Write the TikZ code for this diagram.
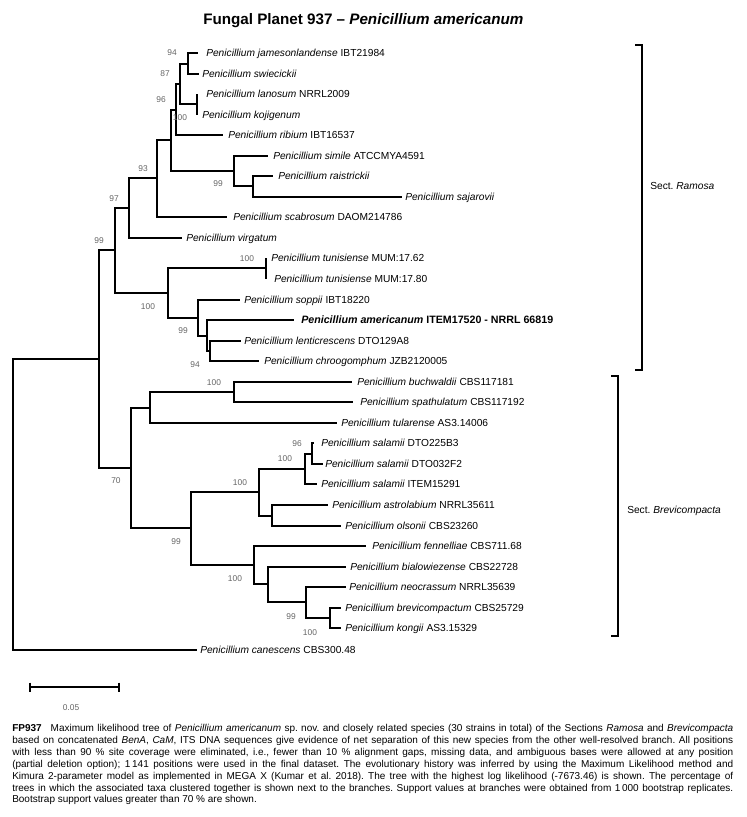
\documentclass[tikz,border=0pt]{standalone}
\usepackage{fontspec}
\setmainfont{Liberation Sans}
\usepackage{graphicx}
\usetikzlibrary{calc}
\frenchspacing
\begin{document}
\begin{tikzpicture}[x=0.75pt,y=-0.75pt,
  br/.style={line width=1.5pt, line join=miter},
  bk/.style={line width=0.8pt},
  leaf/.style={anchor=base west, inner sep=0pt, yshift=-2.8pt, font=\fontsize{7.65}{9}\selectfont},
  bs/.style={inner sep=0pt, text=black!60, font=\fontsize{6.3}{7}\selectfont},
  capl/.style={anchor=base west, inner sep=0pt, font=\fontsize{7.5}{9}\selectfont}]
\useasboundingbox (0,0) rectangle (746,817);
\fill[white] (0,0) rectangle (746,817);

% title
\node[anchor=base west, inner sep=0pt] (title) at (203,24.5)
  {\fontsize{11.4}{14}\selectfont\bfseries Fungal Planet 937 – \textit{Penicillium americanum}};

% leaf tips
\coordinate (t1) at (198,53);  \coordinate (t2) at (199,74);
\coordinate (t3) at (197,94);  \coordinate (t4) at (197,115);
\coordinate (t5) at (223,135); \coordinate (t6) at (268,156);
\coordinate (t7) at (273,176); \coordinate (t8) at (402,197);
\coordinate (t9) at (227,217); \coordinate (t10) at (182,238);
\coordinate (t11) at (266,258); \coordinate (t12) at (266,279);
\coordinate (t13) at (240,300); \coordinate (t14) at (294,320);
\coordinate (t15) at (241,341); \coordinate (t16) at (259,361);
\coordinate (t17) at (352,382); \coordinate (t18) at (353,402);
\coordinate (t19) at (337,423); \coordinate (t20) at (314,443);
\coordinate (t21) at (323,464); \coordinate (t22) at (317,484);
\coordinate (t23) at (328,505); \coordinate (t24) at (341,526);
\coordinate (t25) at (366,546); \coordinate (t26) at (346,567);
\coordinate (t27) at (346,587); \coordinate (t28) at (341,608);
\coordinate (t29) at (341,628); \coordinate (t30) at (197,650);

% internal nodes
\coordinate (A) at (188,64);   \coordinate (B) at (197,104);
\coordinate (C) at (180,84);   \coordinate (D) at (176,110);
\coordinate (E) at (253,186);  \coordinate (F) at (234,171);
\coordinate (G) at (171,140);  \coordinate (H) at (157,178);
\coordinate (I) at (129,208);  \coordinate (J) at (266,268);
\coordinate (K) at (210,351);  \coordinate (L) at (207,336);
\coordinate (M) at (198,318);  \coordinate (N) at (168,293);
\coordinate (O) at (115,250);
\coordinate (S) at (234,392);  \coordinate (R) at (150,408);
\coordinate (W) at (312,454);  \coordinate (V) at (305,469);
\coordinate (X) at (272,516);  \coordinate (U) at (259,492);
\coordinate (AB) at (330,618); \coordinate (AA) at (306,602);
\coordinate (Z) at (268,584);  \coordinate (Y) at (254,565);
\coordinate (T) at (191,528);  \coordinate (Q) at (131,468);
\coordinate (P) at (99,359);   \coordinate (R0) at (13,504);

% branches
\draw[br] (A) |- (t1); \draw[br] (A) |- (t2);
\draw[br] (B) |- (t3); \draw[br] (B) |- (t4);
\draw[br] (C) |- (A);  \draw[br] (C) |- (B);
\draw[br] (D) |- (C);  \draw[br] (D) |- (t5);
\draw[br] (E) |- (t7); \draw[br] (E) |- (t8);
\draw[br] (F) |- (t6); \draw[br] (F) |- (E);
\draw[br] (G) |- (D);  \draw[br] (G) |- (F);
\draw[br] (H) |- (G);  \draw[br] (H) |- (t9);
\draw[br] (I) |- (H);  \draw[br] (I) |- (t10);
\draw[br] (J) |- (t11); \draw[br] (J) |- (t12);
\draw[br] (K) |- (t15); \draw[br] (K) |- (t16);
\draw[br] (L) |- (t14); \draw[br] (L) |- (K);
\draw[br] (M) |- (t13); \draw[br] (M) |- (L);
\draw[br] (N) |- (J);  \draw[br] (N) |- (M);
\draw[br] (O) |- (I);  \draw[br] (O) |- (N);
\draw[br] (P) |- (O);  \draw[br] (P) |- (Q);
\draw[br] (S) |- (t17); \draw[br] (S) |- (t18);
\draw[br] (R) |- (S);  \draw[br] (R) |- (t19);
\draw[br] (W) |- (t20); \draw[br] (W) |- (t21);
\draw[br] (V) |- (W);  \draw[br] (V) |- (t22);
\draw[br] (X) |- (t23); \draw[br] (X) |- (t24);
\draw[br] (U) |- (V);  \draw[br] (U) |- (X);
\draw[br] (AB) |- (t28); \draw[br] (AB) |- (t29);
\draw[br] (AA) |- (t27); \draw[br] (AA) |- (AB);
\draw[br] (Z) |- (t26); \draw[br] (Z) |- (AA);
\draw[br] (Y) |- (t25); \draw[br] (Y) |- (Z);
\draw[br] (T) |- (U);  \draw[br] (T) |- (Y);
\draw[br] (Q) |- (R);  \draw[br] (Q) |- (T);
\draw[br] (R0) |- (P); \draw[br] (R0) |- (t30);

% leaf labels
\node[leaf] (l1) at (206,53) {\textit{Penicillium jamesonlandense} IBT21984};
\node[leaf] (l2) at (202,74) {\textit{Penicillium swiecickii}};
\node[leaf] (l3) at (206,94) {\textit{Penicillium lanosum} NRRL2009};
\node[leaf] (l4) at (202,115) {\textit{Penicillium kojigenum}};
\node[leaf] (l5) at (228,135) {\textit{Penicillium ribium} IBT16537};
\node[leaf] (l6) at (273,156) {\textit{Penicillium simile} ATCCMYA4591};
\node[leaf] (l7) at (278,176) {\textit{Penicillium raistrickii}};
\node[leaf] (l8) at (405,197) {\textit{Penicillium sajarovii}};
\node[leaf] (l9) at (233,217) {\textit{Penicillium scabrosum} DAOM214786};
\node[leaf] (l10) at (186,238) {\textit{Penicillium virgatum}};
\node[leaf] (l11) at (271,258) {\textit{Penicillium tunisiense} MUM:17.62};
\node[leaf] (l12) at (274,279) {\textit{Penicillium tunisiense} MUM:17.80};
\node[leaf] (l13) at (244,300) {\textit{Penicillium soppii} IBT18220};
\node[leaf, font=\fontsize{8}{9}\selectfont\bfseries] (l14) at (301,320) {\textit{Penicillium americanum} ITEM17520 - NRRL 66819};
\node[leaf] (l15) at (244,341) {\textit{Penicillium lenticrescens} DTO129A8};
\node[leaf] (l16) at (264,361) {\textit{Penicillium chroogomphum} JZB2120005};
\node[leaf] (l17) at (357,382) {\textit{Penicillium buchwaldii} CBS117181};
\node[leaf] (l18) at (360,402) {\textit{Penicillium spathulatum} CBS117192};
\node[leaf] (l19) at (341,423) {\textit{Penicillium tularense} AS3.14006};
\node[leaf] (l20) at (321,443) {\textit{Penicillium salamii} DTO225B3};
\node[leaf] (l21) at (325,464) {\textit{Penicillium salamii} DTO032F2};
\node[leaf] (l22) at (321,484) {\textit{Penicillium salamii} ITEM15291};
\node[leaf] (l23) at (332,505) {\textit{Penicillium astrolabium} NRRL35611};
\node[leaf] (l24) at (345,526) {\textit{Penicillium olsonii} CBS23260};
\node[leaf] (l25) at (372,546) {\textit{Penicillium fennelliae} CBS711.68};
\node[leaf] (l26) at (350,567) {\textit{Penicillium bialowiezense} CBS22728};
\node[leaf] (l27) at (349,587) {\textit{Penicillium neocrassum} NRRL35639};
\node[leaf] (l28) at (345,608) {\textit{Penicillium brevicompactum} CBS25729};
\node[leaf] (l29) at (345,628) {\textit{Penicillium kongii} AS3.15329};
\node[leaf] (l30) at (200,650) {\textit{Penicillium canescens} CBS300.48};

% bootstrap values
\node[bs] (b1) at (172,53) {94};
\node[bs] (b2) at (165,74) {87};
\node[bs] (b3) at (161,100) {96};
\node[bs] (b4) at (180,118) {100};
\node[bs] (b5) at (218,184) {99};
\node[bs] (b6) at (143,169) {93};
\node[bs] (b7) at (114,199) {97};
\node[bs] (b8) at (99,241) {99};
\node[bs] (b9) at (247,259) {100};
\node[bs] (b10) at (148,307) {100};
\node[bs] (b11) at (183,331) {99};
\node[bs] (b12) at (195,365) {94};
\node[bs] (b13) at (116,481) {70};
\node[bs] (b14) at (214,383) {100};
\node[bs] (b15) at (297,444) {96};
\node[bs] (b16) at (285,459) {100};
\node[bs] (b17) at (240,483) {100};
\node[bs] (b18) at (176,542) {99};
\node[bs] (b19) at (235,579) {100};
\node[bs] (b20) at (291,617) {99};
\node[bs] (b21) at (310,633) {100};

% section brackets
\coordinate (ra1) at (635,45); \coordinate (ra2) at (642,45);
\coordinate (ra3) at (642,370); \coordinate (ra4) at (635,370);
\draw[bk] (ra1) -- (ra2) -- (ra3) -- (ra4);
\node[leaf, yshift=0pt, anchor=west] (sr) at (650,182) {Sect. \textit{Ramosa}};
\coordinate (bv1) at (611,376); \coordinate (bv2) at (618,376);
\coordinate (bv3) at (618,636); \coordinate (bv4) at (611,636);
\draw[bk] (bv1) -- (bv2) -- (bv3) -- (bv4);
\node[leaf, yshift=0pt, anchor=west] (sb) at (627,507) {Sect. \textit{Brevicompacta}};

% scale bar
\coordinate (sc1) at (30,687); \coordinate (sc2) at (119,687);
\draw[br] (sc1) -- (sc2);
\draw[br] ($(sc1)+(0,-4.5)$) -- ($(sc1)+(0,4.5)$);
\draw[br] ($(sc2)+(0,-4.5)$) -- ($(sc2)+(0,4.5)$);
\node[bs] (sl) at (71,708) {0.05};

% caption
\newcommand{\capline}[1]{\makebox[540.75pt][s]{#1}}
\node[capl] (c1) at (12,731.5) {\capline{\textbf{FP937}\hspace{0.9em}Maximum likelihood tree of \textit{Penicillium americanum} sp. nov. and closely related species (30 strains in total) of the Sections \textit{Ramosa} and \textit{Brevicompacta}}};
\node[capl] (c2) at (12,743.4) {\capline{based on concatenated \textit{BenA}, \textit{CaM}, ITS DNA sequences give evidence of net separation of this new species from the other well-resolved branch. All positions}};
\node[capl] (c3) at (12,755.3) {\capline{with less than 90 \% site coverage were eliminated, i.e., fewer than 10 \% alignment gaps, missing data, and ambiguous bases were allowed at any position}};
\node[capl] (c4) at (12,767.2) {\capline{(partial deletion option); 1\,141 positions were used in the final dataset. The evolutionary history was inferred by using the Maximum Likelihood method and}};
\node[capl] (c5) at (12,779.1) {\capline{Kimura 2-parameter model as implemented in MEGA X (Kumar et al. 2018). The tree with the highest log likelihood (-7673.46) is shown. The percentage of}};
\node[capl] (c6) at (12,791.0) {\capline{trees in which the associated taxa clustered together is shown next to the branches. Support values at branches were obtained from 1\,000 bootstrap replicates.}};
\node[capl] (c7) at (12,802.9) {Bootstrap support values greater than 70 \% are shown.};
\end{tikzpicture}
\end{document}
